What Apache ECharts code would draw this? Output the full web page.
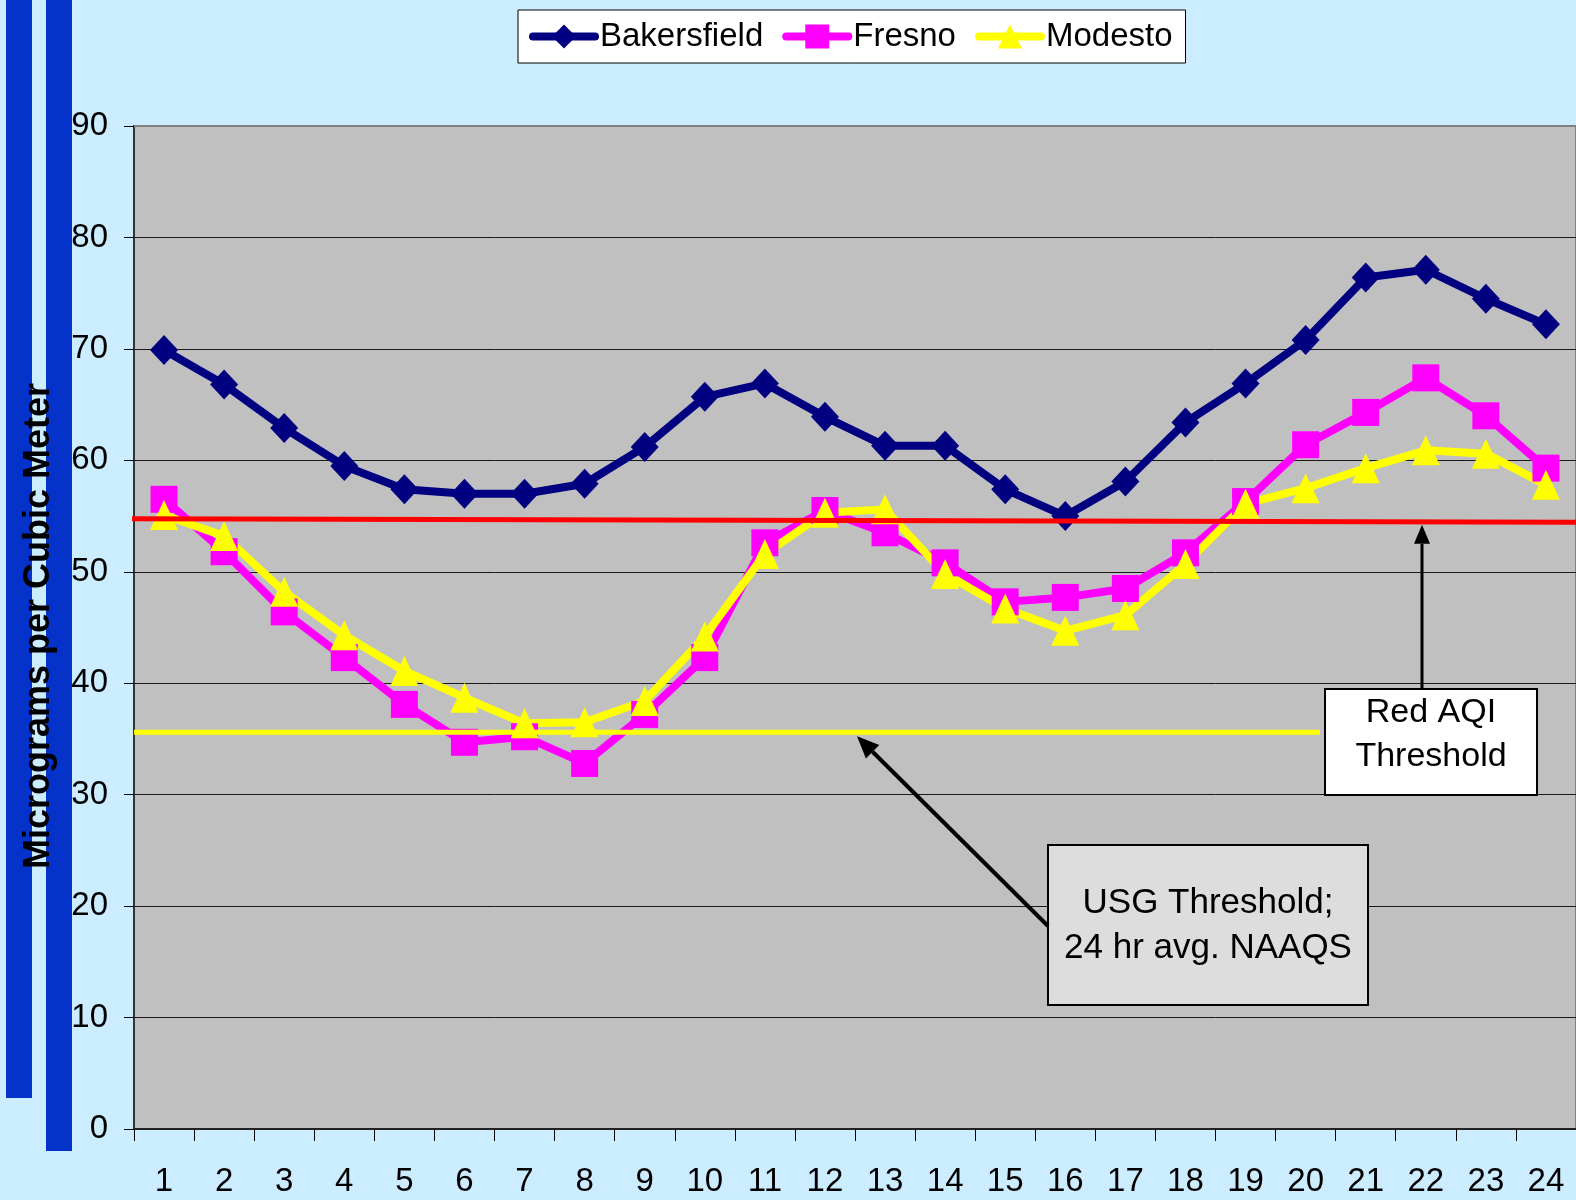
<!DOCTYPE html>
<html><head><meta charset="utf-8">
<script src="https://cdn.jsdelivr.net/npm/echarts@6/dist/echarts.min.js"></script>
<style>html,body{margin:0;padding:0;background:#CCECFF}#c{width:1576px;height:1200px}</style>
</head><body><div id="c"></div>
<script>
// ---- data ----
const hours = ['1','2','3','4','5','6','7','8','9','10','11','12','13','14','15','16','17','18','19','20','21','22','23','24'];
const bakersfield = [69.9, 66.8, 62.9, 59.5, 57.4, 57.0, 57.0, 57.9, 61.2, 65.7, 66.9, 63.9, 61.3, 61.3, 57.4, 55.0, 58.1, 63.4, 66.9, 70.8, 76.4, 77.1, 74.5, 72.2];
const fresno      = [56.5, 51.8, 46.4, 42.3, 38.1, 34.7, 35.2, 32.8, 37.2, 42.3, 52.6, 55.5, 53.5, 50.8, 47.3, 47.7, 48.5, 51.7, 56.3, 61.4, 64.3, 67.4, 64.0, 59.3];
const modesto     = [55.1, 53.2, 48.2, 44.3, 41.1, 38.7, 36.4, 36.5, 38.4, 44.2, 51.6, 55.3, 55.6, 49.8, 46.7, 44.7, 46.1, 50.7, 56.1, 57.5, 59.3, 60.9, 60.6, 57.8];
const seriesNames = ['Bakersfield', 'Fresno', 'Modesto'];
const redAqiThreshold = [54.75, 54.45];   // drawn line, left end / right end
const usgThreshold = [35.6];
const yAxisTicks = { min: 0, max: 90, interval: 10 };
const yTitle = 'Micrograms per Cubic Meter';
const redLabel = 'Red AQI\nThreshold';
const usgLabel = 'USG Threshold;\n24 hr avg. NAAQS';

const FONT = "'Liberation Sans', Arial, sans-serif";
const chart = echarts.init(document.getElementById('c'), null, { renderer: 'canvas' });

const option = {
  animation: false,
  backgroundColor: '#CCECFF',
  textStyle: { fontFamily: FONT },
  legend: {
    data: seriesNames,
    left: 518, top: 10,
    padding: [10, 13, 10, 11],
    itemGap: 19,
    itemWidth: 62, itemHeight: 30,
    backgroundColor: '#FFFFFF',
    borderColor: '#000000', borderWidth: 1,
    lineStyle: { width: 8, cap: 'round' },
    textStyle: { fontSize: 33, color: '#000', fontFamily: FONT }
  },
  grid: {
    left: 134, top: 126, right: 0, bottom: 71,
    show: true, backgroundColor: '#C0C0C0', borderColor: '#808080', borderWidth: 2
  },
  xAxis: {
    type: 'category', data: hours, boundaryGap: true,
    axisLine: { lineStyle: { color: '#222', width: 2 } },
    axisTick: { show: true, length: 12, lineStyle: { color: '#000', width: 1 } },
    axisLabel: { interval: 0, fontSize: 33, color: '#000', margin: 36, fontFamily: FONT },
    splitLine: { show: false }
  },
  yAxis: {
    type: 'value', min: yAxisTicks.min, max: yAxisTicks.max, interval: yAxisTicks.interval,
    axisLine: { show: true, lineStyle: { color: '#333', width: 2 } },
    axisTick: { show: true, length: 10, lineStyle: { color: '#000', width: 1 } },
    axisLabel: { fontSize: 33, color: '#000', margin: 26, fontFamily: FONT },
    splitLine: { show: true, lineStyle: { color: '#1a1a1a', width: 1 } }
  },
  series: [
    { name: seriesNames[0], type: 'line', data: bakersfield, symbol: 'diamond', symbolSize: [28, 30],
      lineStyle: { color: '#000080', width: 8 }, itemStyle: { color: '#000080' } },
    { name: seriesNames[1], type: 'line', data: fresno, symbol: 'rect', symbolSize: 27,
      lineStyle: { color: '#FF00FF', width: 8 }, itemStyle: { color: '#FF00FF' } },
    { name: seriesNames[2], type: 'line', data: modesto, symbol: 'triangle', symbolSize: [28, 30],
      lineStyle: { color: '#FFFF00', width: 8 }, itemStyle: { color: '#FFFF00' } }
  ]
};
chart.setOption(option);

const yPix = v => chart.convertToPixel({ yAxisIndex: 0 }, v);
const redY0 = yPix(redAqiThreshold[0]), redY1 = yPix(redAqiThreshold[1]);
const usgY = yPix(usgThreshold[0]);
const topY = yPix(yAxisTicks.max);

// arrow helper
function arrow(x1, y1, x2, y2, w, headLen, headW) {
  const dx = x2 - x1, dy = y2 - y1, L = Math.hypot(dx, dy);
  const ux = dx / L, uy = dy / L;
  const bx = x2 - ux * headLen, by = y2 - uy * headLen;
  const px = -uy * headW / 2, py = ux * headW / 2;
  return [
    { type: 'line', z: 120, shape: { x1, y1, x2: bx, y2: by }, style: { stroke: '#000', lineWidth: w } },
    { type: 'polygon', z: 120, shape: { points: [[x2, y2], [bx + px, by + py], [bx - px, by - py]] }, style: { fill: '#000' } }
  ];
}

const graphics = [
  { type: 'rect', z: -10, shape: { x: 6, y: 0, width: 26, height: 1098 }, style: { fill: '#0532C8' } },
  { type: 'rect', z: -10, shape: { x: 46, y: 0, width: 26, height: 1151 }, style: { fill: '#0532C8' } },
  { type: 'text', z: 50, x: 39, y: 626, rotation: Math.PI / 2,
    style: { text: yTitle, align: 'center', verticalAlign: 'middle', fontSize: 36, fontWeight: 'bold', fontFamily: FONT, fill: '#000' } },
  // gray top edge of plot area
  { type: 'line', z: 1, shape: { x1: 134, y1: topY, x2: 1576, y2: topY }, style: { stroke: '#808080', lineWidth: 2 } },
  // threshold lines
  { type: 'line', z: 100, shape: { x1: 132, y1: redY0, x2: 1576, y2: redY1 }, style: { stroke: '#FF0000', lineWidth: 5 } },
  { type: 'line', z: 100, shape: { x1: 134, y1: usgY, x2: 1320, y2: usgY }, style: { stroke: '#FFFF00', lineWidth: 5 } },
  // Red AQI box
  { type: 'rect', z: 110, shape: { x: 1325, y: 689, width: 212, height: 106 }, style: { fill: '#FFFFFF', stroke: '#000', lineWidth: 2 } },
  { type: 'text', z: 111, x: 1431, y: 735,
    style: { text: redLabel, align: 'center', verticalAlign: 'middle', fontSize: 34, lineHeight: 44, fontFamily: FONT, fill: '#000' } },
  // USG box
  { type: 'rect', z: 110, shape: { x: 1048, y: 845, width: 320, height: 160 }, style: { fill: '#DDDDDD', stroke: '#000', lineWidth: 2 } },
  { type: 'text', z: 111, x: 1208, y: 926,
    style: { text: usgLabel, align: 'center', verticalAlign: 'middle', fontSize: 35, lineHeight: 45, fontFamily: FONT, fill: '#000' } }
].concat(arrow(1422, 689, 1422, redY0 + (redY1 - redY0) * 0.89 + 3, 3, 19, 16))
 .concat(arrow(1048, 926, 857, usgY + 4, 4, 22, 19));

chart.setOption({ graphic: graphics });
</script>
</body></html>
